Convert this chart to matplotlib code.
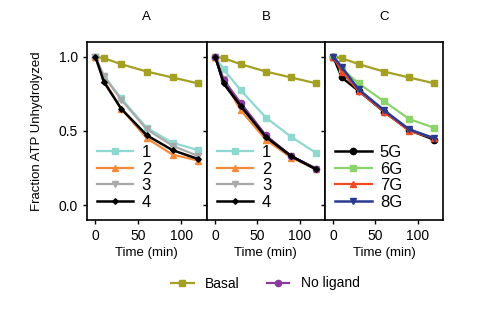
import matplotlib
matplotlib.use("Agg")
import matplotlib.pyplot as plt
from matplotlib.lines import Line2D

plt.rcParams["font.family"] = ["Liberation Sans", "DejaVu Sans"]

# --- Data ---
t = [0, 10, 30, 60, 90, 120]
basal = [1.0, 0.99, 0.95, 0.90, 0.86, 0.82]
no_ligand = [1.0, 0.84, 0.69, 0.47, 0.33, 0.245]

a_series = {
    "1": [1.0, 0.87, 0.72, 0.52, 0.42, 0.37],
    "2": [1.0, 0.84, 0.65, 0.45, 0.34, 0.30],
    "3": [1.0, 0.87, 0.71, 0.51, 0.40, 0.33],
    "4": [1.0, 0.83, 0.65, 0.47, 0.37, 0.31],
}
b_series = {
    "1": [1.0, 0.915, 0.775, 0.59, 0.46, 0.35],
    "2": [1.0, 0.84, 0.64, 0.44, 0.32, 0.24],
    "3": [1.0, 0.85, 0.68, 0.46, 0.33, 0.245],
    "4": [1.0, 0.82, 0.67, 0.46, 0.33, 0.24],
}
c_series = {
    "5G": [1.0, 0.86, 0.77, 0.63, 0.505, 0.44],
    "6G": [1.0, 0.92, 0.82, 0.70, 0.58, 0.52],
    "7G": [1.0, 0.90, 0.77, 0.63, 0.50, 0.45],
    "8G": [1.0, 0.93, 0.78, 0.64, 0.51, 0.45],
}

style_ab = {
    "1": dict(color="#8fd8d0", marker="s", ms=4.5, lw=1.6),
    "2": dict(color="#f58a3a", marker="^", ms=4.5, lw=1.6),
    "3": dict(color="#a9a9a9", marker="v", ms=4.5, lw=1.6),
    "4": dict(color="#000000", marker="D", ms=2.8, lw=1.8),
}
style_c = {
    "5G": dict(color="#000000", marker="o", ms=4.5, lw=1.8),
    "6G": dict(color="#8bd46c", marker="s", ms=4.5, lw=1.6),
    "7G": dict(color="#f04a24", marker="^", ms=4.5, lw=1.6),
    "8G": dict(color="#2b3990", marker="v", ms=4.5, lw=1.8),
}
basal_style = dict(color="#a3a023", marker="s", ms=4.5, lw=1.6)
nolig_style = dict(color="#8a3a9a", marker="o", ms=4.5, lw=1.6)

fig = plt.figure(figsize=(4.96, 3.15), dpi=100)
bottom, height = 0.302, 0.565
axA = fig.add_axes([0.175, bottom, 0.242, height])
axB = fig.add_axes([0.417, bottom, 0.238, height])
axC = fig.add_axes([0.655, bottom, 0.238, height])

def draw(ax, series, styles, title, with_nolig):
    ax.plot(t, basal, **basal_style, zorder=2)
    handles = []
    for name, vals in series.items():
        h, = ax.plot(t, vals, label=name, **styles[name], zorder=3)
        handles.append(h)
    if with_nolig:
        ax.plot(t, no_ligand, **nolig_style, zorder=3)
        ax.plot(t, series["4"], **styles["4"], zorder=4)
    ax.set_xlim(-10, 130)
    ax.set_ylim(-0.1, 1.1)
    ax.set_xticks([0, 50, 100])
    ax.set_yticks([0.0, 0.5, 1.0])
    ax.tick_params(labelsize=10, length=3, width=1)
    for s in ax.spines.values():
        s.set_linewidth(1.2)
    ax.set_title(title, fontsize=9.5, pad=16)
    ax.set_xlabel("Time (min)", fontsize=9.5, labelpad=3)
    ax.legend(handles=handles, loc="lower left", frameon=False, fontsize=12,
              handlelength=2.2, handletextpad=0.5, labelspacing=0.1,
              borderaxespad=0.2)

draw(axA, a_series, style_ab, "A", False)
draw(axB, b_series, style_ab, "B", True)
draw(axC, c_series, style_c, "C", False)

axA.set_yticklabels(["0.0", "0.5", "1.0"])
axB.set_yticklabels([])
axC.set_yticklabels([])
axA.set_ylabel("Fraction ATP Unhydrolyzed", fontsize=9.5, labelpad=11)

fig_handles = [Line2D([], [], **basal_style), Line2D([], [], **nolig_style)]
fig.legend(fig_handles, ["Basal", "No ligand"], loc="center",
           bbox_to_anchor=(0.535, 0.1), ncol=2, frameon=False, fontsize=10,
           handlelength=1.6, columnspacing=2.0)

fig.savefig("out.png", dpi=100)
